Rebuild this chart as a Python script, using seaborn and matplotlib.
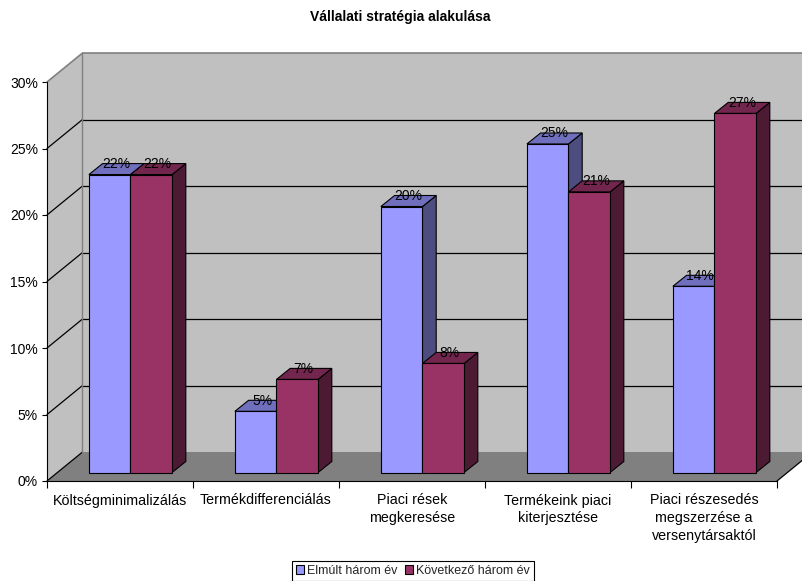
import numpy as np
import pandas as pd
import matplotlib
matplotlib.use("Agg")
import matplotlib.pyplot as plt
from matplotlib.patches import Polygon, Rectangle
from matplotlib.lines import Line2D
from matplotlib.container import BarContainer
import seaborn as sns

# ---------------- data ----------------
title = "Vállalati stratégia alakulása"
categories = ["Költségminimalizálás", "Termékdifferenciálás",
              "Piaci rések\nmegkeresése", "Termékeink piaci\nkiterjesztése",
              "Piaci részesedés\nmegszerzése a\nversenytársaktól"]
series_names = ["Elmúlt három év", "Következő három év"]
elmult = [22.4, 4.6, 20.0, 24.7, 14.0]
kovetkezo = [22.4, 7.0, 8.2, 21.1, 27.0]
y_ticks = [0, 5, 10, 15, 20, 25, 30]
y_tick_labels = ["0%", "5%", "10%", "15%", "20%", "25%", "30%"]

front_colors = ["#9999FF", "#993366"]
top_colors = ["#6F6FBD", "#73264D"]
side_colors = ["#4D4D80", "#4D1A33"]

# ---------------- setup ----------------
sns.set_theme(style="white")
plt.rcParams['font.family'] = ['Liberation Sans', 'DejaVu Sans']

df = pd.DataFrame({
    "cat": categories * 2,
    "series": [series_names[0]] * len(categories) + [series_names[1]] * len(categories),
    "value": elmult + kovetkezo,
})

W, H = 803, 581
fig = plt.figure(figsize=(W / 100, H / 100), dpi=100)
fig.patch.set_facecolor("white")
ax = fig.add_axes([47 / W, 1 - 481 / H, 730 / W, 399 / H])
ax.patch.set_visible(False)

sns.barplot(data=df, x="cat", y="value", hue="series", order=categories,
            hue_order=series_names, palette=front_colors, width=0.57,
            edgecolor="black", linewidth=0.8, errorbar=None, ax=ax,
            saturation=1)
containers = [c for c in ax.containers if isinstance(c, BarContainer)]

ax.set_xlim(-0.5, len(categories) - 0.5)
ax.set_ylim(0, 30)

# pixel -> data helpers (for the oblique 3D look)
xr = len(categories) / 730.0
yr = 30 / 399.0
DXw, DYw = 35.5 * xr, 29 * yr        # wall depth
bx, by = 10.5 * xr, 8.5 * yr         # bar front plane offset
ddx, ddy = 13.7 * xr, 11 * yr        # bar depth

x_left = -0.5
x_right = len(categories) - 0.5
far = x_right + 1.0

# back wall
ax.add_patch(Rectangle((x_left + DXw, DYw), far - x_left, 30, facecolor="#C0C0C0",
                       edgecolor="none", zorder=0.5, clip_on=False))
# side wall
ax.add_patch(Polygon([(x_left, 0), (x_left + DXw, DYw), (x_left + DXw, 30 + DYw), (x_left, 30)],
                     closed=True, facecolor="#C0C0C0", edgecolor="none", zorder=0.5, clip_on=False))
# floor
ax.add_patch(Polygon([(x_left, 0), (x_right, 0), (x_right + DXw, DYw), (x_left + DXw, DYw)],
                     closed=True, facecolor="#808080", edgecolor="none", zorder=0.6, clip_on=False))

# gridlines
for v in y_ticks[:-1]:
    ax.add_line(Line2D([x_left, x_left + DXw], [v, v + DYw], color="black", lw=0.9,
                       zorder=0.8, clip_on=False))
    if v > 0:
        ax.add_line(Line2D([x_left + DXw, far + DXw], [v + DYw, v + DYw], color="black",
                           lw=0.9, zorder=0.8, clip_on=False))
# wall borders
ax.add_line(Line2D([x_left, x_left + DXw, far + DXw], [30, 30 + DYw, 30 + DYw],
                   color="#808080", lw=1.2, zorder=0.8, clip_on=False))
ax.add_line(Line2D([x_left + DXw, x_left + DXw], [DYw, 30 + DYw],
                   color="#808080", lw=1.0, zorder=0.8, clip_on=False))
ax.add_line(Line2D([x_right, x_right + DXw], [0, DYw], color="black", lw=0.9,
                   zorder=0.8, clip_on=False))

# 3D bars
n = len(categories)
for s, cont in enumerate(containers[:len(series_names)]):
    for p in cont.patches:
        x0 = p.get_x() + bx
        w = p.get_width()
        h = p.get_height()
        p.set_x(x0)
        p.set_y(by)
        p.set_zorder(2.5 + s)
        top = Polygon([(x0, h + by), (x0 + w, h + by), (x0 + w + ddx, h + by + ddy), (x0 + ddx, h + by + ddy)],
                      closed=True, facecolor=top_colors[s], edgecolor="black", lw=0.8, zorder=2 + s)
        side = Polygon([(x0 + w, by), (x0 + w + ddx, by + ddy), (x0 + w + ddx, h + by + ddy), (x0 + w, h + by)],
                       closed=True, facecolor=side_colors[s], edgecolor="black", lw=0.8, zorder=2 + s)
        ax.add_patch(side)
        ax.add_patch(top)
        ax.annotate(f"{h:.0f}%", xy=(x0 + w / 2, h + by), xytext=(6.5 * 0.72, 10.5 * 0.72),
                    textcoords="offset points", ha="center", va="center", fontsize=10,
                    color="black", zorder=6)

# axes styling
for sp in ["top", "right"]:
    ax.spines[sp].set_visible(False)
for sp in ["left", "bottom"]:
    ax.spines[sp].set_color("black")
    ax.spines[sp].set_linewidth(0.8)
    ax.spines[sp].set_zorder(1)

ax.set_yticks(y_ticks, y_tick_labels)
ax.set_xticks(range(n), categories)
ax.set_xticks(np.arange(-0.5, n, 1.0), minor=True)
ax.tick_params(axis="y", left=True, length=3.6, width=0.8, pad=3, labelsize=10,
               colors="black", direction="out")
ax.tick_params(axis="x", which="major", bottom=True, length=0, pad=9, labelsize=10.3,
               colors="black")
ax.tick_params(axis="x", which="minor", bottom=True, length=5, width=0.8,
               direction="out", color="black")
for lbl in ax.get_xticklabels():
    lbl.set_linespacing(1.35)
ax.set_xlabel("")
ax.set_ylabel("")
ax.grid(False)

# legend
handles, labels = ax.get_legend_handles_labels()
if ax.get_legend() is not None:
    ax.get_legend().remove()
for hd in handles:
    hd.set_edgecolor("black")
    hd.set_linewidth(0.8)
leg = fig.legend(handles, labels, loc="upper center",
                 bbox_to_anchor=(412.7 / W, 1 - 561 / H), ncol=2, fontsize=9,
                 frameon=True, fancybox=False, edgecolor="black", framealpha=1,
                 handlelength=0.65, handleheight=0.65, handletextpad=0.25,
                 columnspacing=0.6, borderpad=0.3, borderaxespad=0)
leg.get_frame().set_linewidth(0.8)

fig.text(400 / W, 1 - 17 / H, title, ha="center", va="center", fontsize=10,
         fontweight="bold", color="black")

fig.savefig("out.png", dpi=100)
